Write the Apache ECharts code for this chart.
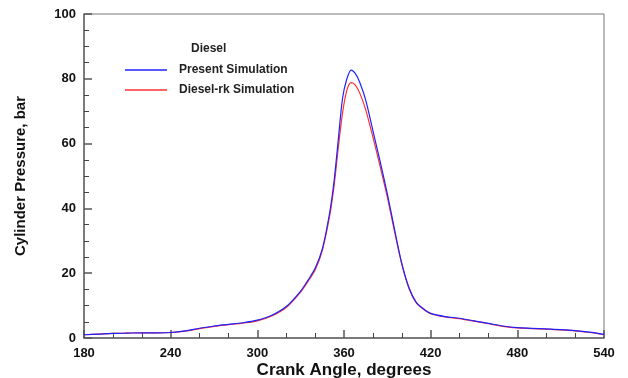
<!DOCTYPE html>
<html lang="en">
<head>
<meta charset="utf-8">
<title>Cylinder Pressure</title>
<script src="https://cdn.jsdelivr.net/npm/echarts@6/dist/echarts.min.js"></script>
<style>
  html, body { margin: 0; padding: 0; background: #fff; }
  #container { width: 628px; height: 378px; }
</style>
</head>
<body>
<div id="container"></div>
<script>
// crank angle, degrees
var angles = [180, 190, 200, 210, 220, 230, 240, 250, 260, 270, 280, 290, 300, 310, 320, 330, 335, 340, 345, 350,
              353, 356, 359, 362, 365, 368, 371, 375, 380, 385, 390, 395, 400, 405, 410, 415, 420, 430, 440, 450,
              460, 470, 480, 490, 500, 510, 520, 530, 540];
// cylinder pressure, bar
var present = [1.0, 1.2, 1.4, 1.5, 1.6, 1.6, 1.7, 2.2, 3.0, 3.7, 4.2, 4.7, 5.5, 7.0, 9.7, 14.5, 17.8, 21.5, 27.5, 38.5,
               48.0, 61.0, 74.0, 80.0, 82.7, 81.5, 78.8, 73.5, 64.0, 54.5, 44.5, 33.5, 23.0, 15.5, 11.0, 9.0, 7.6, 6.6, 6.1, 5.3,
               4.5, 3.7, 3.2, 3.0, 2.8, 2.6, 2.3, 1.8, 1.1];
var dieselRk = [1.0, 1.2, 1.4, 1.5, 1.6, 1.6, 1.7, 2.1, 2.9, 3.6, 4.1, 4.6, 5.3, 6.8, 9.4, 14.2, 17.4, 21.0, 27.0, 37.5,
                46.5, 58.5, 69.5, 76.5, 78.8, 78.0, 75.5, 70.5, 62.0, 53.0, 43.5, 32.8, 22.8, 15.3, 10.9, 8.9, 7.5, 6.5, 6.0, 5.2,
                4.4, 3.6, 3.1, 2.9, 2.7, 2.5, 2.2, 1.7, 1.0];
var xTicks = { min: 180, max: 540, step: 60 };
var yTicks = { min: 0, max: 100, step: 20 };

function pairs(xs, ys) {
  var out = [];
  for (var i = 0; i < xs.length; i++) out.push([xs[i], ys[i]]);
  return out;
}

var font = 'Liberation Sans, Arial, sans-serif';
var blue = '#2020ff', red = '#ff3030';
var myChart = echarts.init(document.getElementById('container'));
var option = {
  animation: false,
  backgroundColor: '#fff',
  title: {
    text: 'Diesel',
    left: 186, top: 38,
    textStyle: { fontFamily: font, fontSize: 12, fontWeight: 'bold', color: '#222' }
  },
  legend: {
    orient: 'vertical',
    left: 120, top: 59,
    itemWidth: 42, itemHeight: 1.5, itemGap: 8,
    icon: 'rect',
    textStyle: { fontFamily: font, fontSize: 12, fontWeight: 'bold', color: '#222', padding: [0, 0, 0, 7] },
    data: [
      { name: 'Present Simulation', itemStyle: { color: blue } },
      { name: 'Diesel-rk Simulation', itemStyle: { color: red } }
    ]
  },
  grid: {
    left: 84, right: 24, top: 14, bottom: 40,
    outerBoundsMode: 'none',
    show: true, borderColor: '#777', borderWidth: 1, backgroundColor: 'transparent'
  },
  xAxis: {
    type: 'value',
    min: xTicks.min, max: xTicks.max, interval: xTicks.step,
    name: 'Crank Angle, degrees',
    nameLocation: 'middle', nameGap: 24, nameMoveOverlap: false,
    nameTextStyle: { fontFamily: font, fontSize: 17, fontWeight: 'bold', color: '#111' },
    axisLine: { lineStyle: { color: '#666', width: 1.5 } },
    axisTick: { inside: true, length: 8, lineStyle: { color: '#555', width: 1.5 } },
    minorTick: { show: true, splitNumber: 3, length: 5, lineStyle: { color: '#444' } },
    axisLabel: { margin: 9, fontFamily: font, fontSize: 13, fontWeight: 'bold', color: '#111' },
    splitLine: { show: false }
  },
  yAxis: {
    type: 'value',
    min: yTicks.min, max: yTicks.max, interval: yTicks.step,
    name: 'Cylinder Pressure, bar',
    nameLocation: 'middle', nameGap: 56, nameMoveOverlap: false,
    nameTextStyle: { fontFamily: font, fontSize: 15, fontWeight: 'bold', color: '#111' },
    axisLine: { lineStyle: { color: '#666', width: 1.5 } },
    axisTick: { inside: true, length: 8, lineStyle: { color: '#555', width: 1.5 } },
    minorTick: { show: true, splitNumber: 4, length: 5, lineStyle: { color: '#444' } },
    axisLabel: { margin: 8, fontFamily: font, fontSize: 13, fontWeight: 'bold', color: '#111' },
    splitLine: { show: false }
  },
  series: [
    {
      name: 'Diesel-rk Simulation',
      type: 'line',
      smooth: 0.3,
      showSymbol: false,
      color: red,
      lineStyle: { width: 1.2, color: red },
      data: pairs(angles, dieselRk)
    },
    {
      name: 'Present Simulation',
      type: 'line',
      smooth: 0.3,
      showSymbol: false,
      color: blue,
      lineStyle: { width: 1.2, color: blue },
      data: pairs(angles, present)
    }
  ]
};
myChart.setOption(option);
</script>
</body>
</html>
